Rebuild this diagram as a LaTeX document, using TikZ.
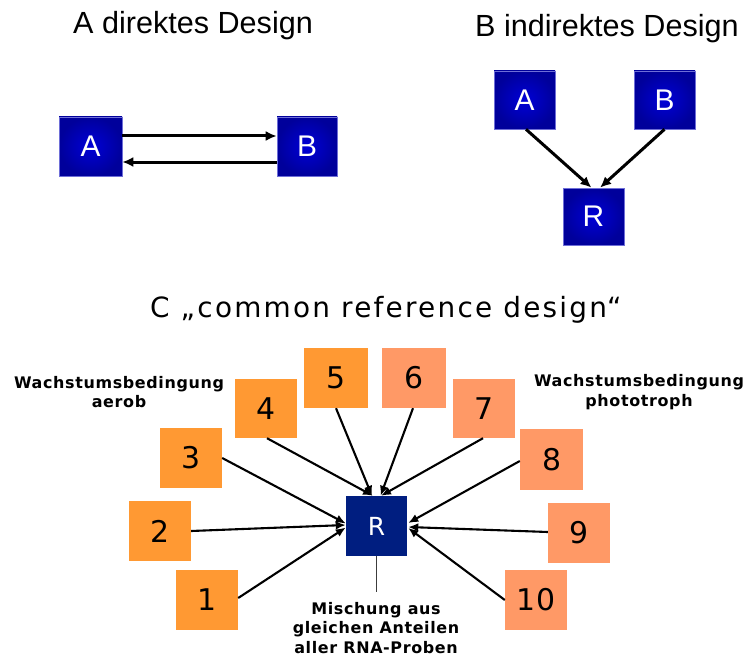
\documentclass[tikz,border=0pt]{standalone}
\usepackage{fontspec}
\setmainfont{DejaVu Sans}
\newfontfamily\arialfont{Liberation Sans}
\newfontfamily\verdfont{DejaVu Sans}
\newfontfamily\verdwide[LetterSpace=8]{DejaVu Sans}
\newfontfamily\notefont[LetterSpace=4]{DejaVu Sans}
\usetikzlibrary{arrows.meta}

\definecolor{boxblue}{RGB}{0,0,155}
\definecolor{boxblueIn}{RGB}{0,0,215}
\definecolor{boxedge}{RGB}{110,110,215}
\definecolor{refnavy}{RGB}{0,30,128}
\definecolor{aerobor}{RGB}{255,153,51}
\definecolor{photoor}{RGB}{255,153,102}
\definecolor{linkgrey}{RGB}{60,60,60}

\tikzset{
  bluebox/.style={inner sep=0pt, minimum width=61bp, minimum height=58bp,
    inner color=boxblueIn, outer color=boxblue, draw=boxedge, line width=0.6bp,
    text=white, font=\arialfont\fontsize{30}{30}\selectfont},
  title/.style={inner sep=0pt, anchor=base west,
    font=\arialfont\fontsize{30.7}{36}\selectfont},
  numbox/.style={inner sep=0pt, minimum width=62bp, minimum height=60bp,
    font=\verdfont\fontsize{30}{30}\selectfont},
  aerobbox/.style={numbox, fill=aerobor},
  photobox/.style={numbox, fill=photoor},
  refbox/.style={inner sep=0pt, minimum width=61bp, minimum height=60bp,
    fill=refnavy, text=white, font=\verdfont\fontsize{25}{25}\selectfont},
  note/.style={inner sep=0pt, align=center,
    font=\notefont\bfseries\fontsize{16}{19.5}\selectfont},
  bigarr/.style={line width=3bp, -{Latex[length=11bp,width=10bp]}},
  arr/.style={line width=2.1bp, -{Latex[length=10bp,width=8.5bp]}},
}

\begin{document}
\begin{tikzpicture}[x=1bp,y=-1bp]
\useasboundingbox[fill=white] (0,0) rectangle (750,662);

% --- A: direct design ---
\node[title] (tA) at (73,34) {A direktes Design};
\node[bluebox, minimum width=63bp, minimum height=59bp] (aA) at (90.5,146.5) {A};
\node[bluebox, minimum width=60bp, minimum height=59bp] (aB) at (307,146.5) {B};
\draw[bigarr] ([yshift=10.5bp]aA.east) -- ([yshift=10.5bp]aB.west);
\draw[bigarr] ([yshift=-15.5bp]aB.west) -- ([yshift=-15.5bp]aA.east);

% --- B: indirect design ---
\node[title] (tB) at (475,37) {B indirektes Design};
\node[bluebox] (bA) at (524.5,100) {A};
\node[bluebox] (bB) at (664.5,100) {B};
\node[bluebox, minimum height=57bp] (bR) at (593.5,216.5) {R};
\draw[bigarr] ([xshift=1.5bp]bA.south) -- ([xshift=-2bp]bR.north);
\draw[bigarr] (bB.south) -- ([xshift=6.5bp]bR.north);

% --- C: common reference design ---
\node[inner sep=0pt, anchor=base west, font=\verdwide\fontsize{28}{34}\selectfont]
  (tC) at (150,317) {C „common reference design“};

\node[refbox] (R) at (376.5,526) {R};

\node[aerobbox] (n1) at (207,600) {1};
\node[aerobbox] (n2) at (160,531) {2};
\node[aerobbox] (n3) at (191,458) {3};
\node[aerobbox, minimum height=59bp] (n4) at (266,408.5) {4};
\node[aerobbox, minimum width=64bp] (n5) at (336,378) {5};
\node[photobox, minimum width=64bp] (n6) at (414,378) {6};
\node[photobox, minimum height=59bp] (n7) at (484,408.5) {7};
\node[photobox, minimum width=63bp, minimum height=61bp] (n8) at (551.5,459.5) {8};
\node[photobox] (n9) at (579,533) {9};
\node[photobox] (n10) at (536,600) {10};

\draw[arr] ([yshift=2bp]n1.east) -- ([yshift=-1.5bp]R.west);
\draw[arr] (n2.east) -- ([yshift=1bp]R.west);
\draw[arr] (n3.east) -- ([yshift=2.5bp]R.west);
\draw[arr] ([xshift=1bp]n4.south) -- ([xshift=-3.5bp]R.north);
\draw[arr] (n5.south) -- ([xshift=-4.5bp]R.north);
\draw[arr] ([xshift=-1bp]n6.south) -- ([xshift=4bp]R.north);
\draw[arr] ([xshift=-1bp]n7.south) -- ([xshift=4.5bp]R.north);
\draw[arr] ([yshift=-1.5bp]n8.west) -- ([yshift=3bp,xshift=1bp]R.east);
\draw[arr] ([yshift=1bp]n9.west) -- ([yshift=-1bp,xshift=1bp]R.east);
\draw[arr] (n10.west) -- ([yshift=-2bp,xshift=1bp]R.east);

\coordinate (mixtop) at (376.5,592);
\draw[linkgrey, line width=1.8bp] (R.south) -- (mixtop);

\node[note] (aerob) at (119,392) {Wachstumsbedingung\\aerob};
\node[note] (photo) at (639,392) {Wachstumsbedingung\\phototroph};
\node[note, font=\notefont\bfseries\fontsize{16}{20}\selectfont] (mix) at (376,628)
  {Mischung aus\\gleichen Anteilen\\aller RNA-Proben};
\end{tikzpicture}
\end{document}
